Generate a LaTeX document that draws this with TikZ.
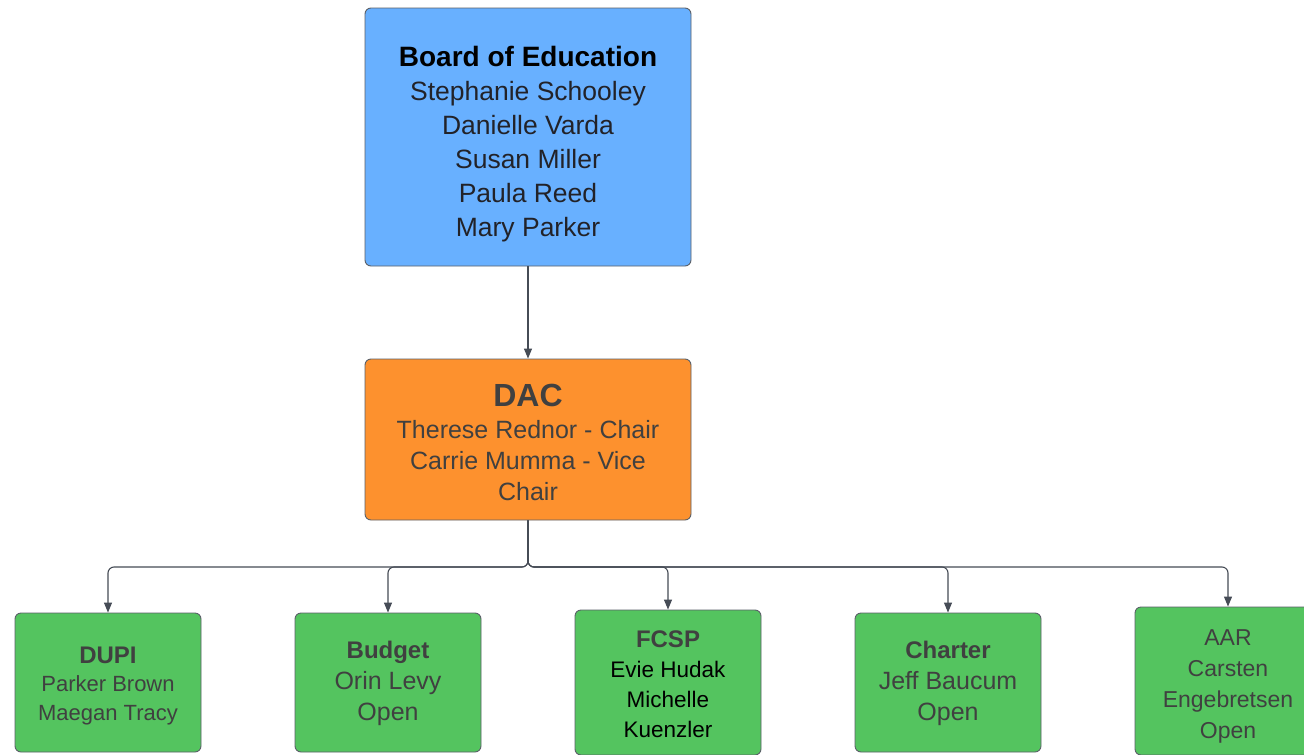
\documentclass[tikz,border=0pt]{standalone}
\usepackage{fontspec}
\setmainfont{Liberation Sans}
\usetikzlibrary{arrows.meta}
\definecolor{boardblue}{RGB}{104,176,255}
\definecolor{dacorange}{RGB}{253,145,46}
\definecolor{cgreen}{RGB}{84,196,95}
\definecolor{edgegray}{RGB}{90,96,104}
\definecolor{linegray}{RGB}{70,76,86}
\definecolor{txtdark}{RGB}{34,34,40}
\definecolor{txtgray}{RGB}{64,64,64}
\tikzset{
  x=1pt, y=-1pt,
  box/.style={draw=edgegray, line width=0.9pt, rounded corners=6pt, align=center,
    inner sep=0pt, anchor=center},
  boardbox/.style={box, fill=boardblue, minimum width=326pt, minimum height=258pt},
  dacbox/.style={box, fill=dacorange, minimum width=326pt, minimum height=161pt},
  gbox/.style={box, fill=cgreen, minimum width=186pt, text=txtgray},
  txt/.style={align=center, anchor=center, inner sep=0pt},
  conn/.style={draw=linegray, line width=1.1pt, rounded corners=6pt,
    -{Triangle[length=10pt,width=8pt]}},
}
\begin{document}
\begin{tikzpicture}
\clip (0,0) rectangle (1304,755);
\fill[white] (0,0) rectangle (1304,755);

\node[boardbox] (board) at (528,137) {};
\node[txt, text=txtdark, font=\fontsize{26.5}{34}\selectfont] (boardtxt) at (528,144)
  {{\fontsize{28}{34}\selectfont\bfseries\color{black} Board of Education}\\
   Stephanie Schooley\\ Danielle Varda\\ Susan Miller\\ Paula Reed\\ Mary Parker};

\node[dacbox] (dac) at (528,439.5) {};
\node[txt, text=txtgray, font=\fontsize{25}{31}\selectfont] (dactxt) at (528,442)
  {{\fontsize{32}{36}\selectfont\bfseries DAC}\\[1pt]
   Therese Rednor - Chair\\ Carrie Mumma - Vice\\ Chair};

\node[gbox, minimum height=139pt] (dupi) at (108,682.5) {};
\node[txt, text=txtgray, font=\fontsize{22}{28.5}\selectfont] (dupitxt) at (108,686)
  {{\fontsize{24}{28.5}\selectfont\bfseries DUPI}\\ Parker Brown\\ Maegan Tracy};

\node[gbox, minimum height=139pt] (budget) at (388,682.5) {};
\node[txt, text=txtgray, font=\fontsize{25}{31}\selectfont] (budgettxt) at (388,683)
  {{\fontsize{24}{31}\selectfont\bfseries Budget}\\ Orin Levy\\ Open};

\node[gbox, minimum height=145pt] (fcsp) at (668,682.5) {};
\node[txt, text=black, font=\fontsize{22.5}{30}\selectfont] (fcsptxt) at (668,684)
  {{\fontsize{24}{30}\selectfont\bfseries\color{txtgray} FCSP}\\ Evie Hudak\\ Michelle\\ Kuenzler};

\node[gbox, minimum height=139pt] (charter) at (948,682.5) {};
\node[txt, text=txtgray, font=\fontsize{25}{31}\selectfont] (chartertxt) at (948,683)
  {{\fontsize{24}{31}\selectfont\bfseries Charter}\\ Jeff Baucum\\ Open};

\node[gbox, minimum height=148pt] (aar) at (1228,681) {};
\node[txt, text=txtgray, font=\fontsize{23}{31}\selectfont] (aartxt) at (1228,686)
  {AAR\\ Carsten\\ Engebretsen\\ Open};

\coordinate (j) at (528,567);
\draw[conn] (board.south) -- (dac.north);
\draw[conn] (dac.south) -- (j) -| (dupi.north);
\draw[conn] (dac.south) -- (j) -| (budget.north);
\draw[conn] (dac.south) -- (j) -| (fcsp.north);
\draw[conn] (dac.south) -- (j) -| (charter.north);
\draw[conn] (dac.south) -- (j) -| (aar.north);
\end{tikzpicture}
\end{document}
